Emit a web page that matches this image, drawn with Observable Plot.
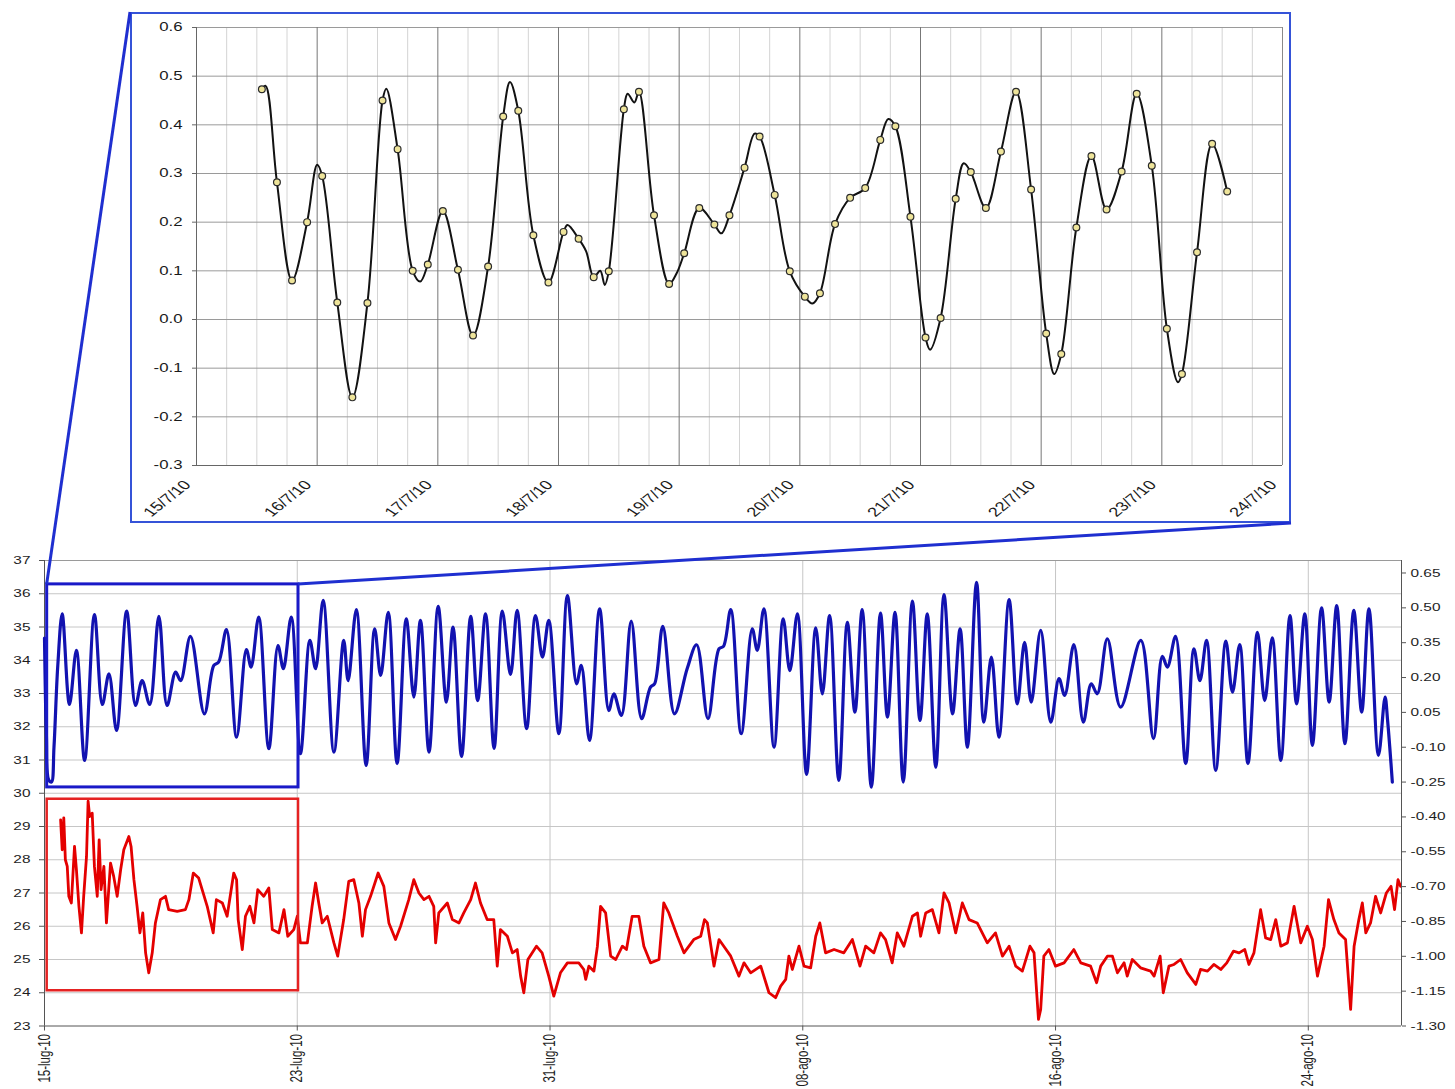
<!DOCTYPE html>
<html><head><meta charset="utf-8">
<script src="https://cdn.jsdelivr.net/npm/d3@7"></script>
<script src="https://cdn.jsdelivr.net/npm/@observablehq/plot@0.6"></script>
<style>
html,body{margin:0;padding:0;background:#fff;}
body{width:1455px;height:1089px;position:relative;overflow:hidden;font-family:"Liberation Sans",Arial,sans-serif;}
#inset{position:absolute;left:130px;top:12px;width:1157px;height:507px;border:2px solid #3553d8;background:#fff;}
.layer{position:absolute;left:0;top:540px;}
#conn{position:absolute;left:0;top:0;pointer-events:none;}
</style></head><body>
<div id="inset"></div>
<div id="mainA" class="layer"></div>
<div id="mainB" class="layer"></div>
<svg id="conn" width="1455" height="1089"></svg>
<script>
// ---------- Inset (zoom of 15/7/10 – 24/7/10), sea level (m) ----------
const insetXTicks = [0,1,2,3,4,5,6,7,8,9];
const insetXLabels = ["15/7/10","16/7/10","17/7/10","18/7/10","19/7/10","20/7/10","21/7/10","22/7/10","23/7/10","24/7/10"];
const insetYTicks = [-0.3,-0.2,-0.1,0,0.1,0.2,0.3,0.4,0.5,0.6];
// hours since 15/7/10 00:00 of the marked (3-hourly) samples
const insetDotHours = [13,16,19,22,25,28,31,34,37,40,43,46,49,52,55,58,61,64,67,70,73,76,79,82,85,88,91,94,97,100,103,106,109,112,115,118,121,124,127,130,133,136,139,142,145,148,151,154,157,160,163,166,169,172,175,178,181,184,187,190,193,196,199,202,205];
const insetDotLevel = [0.473,0.282,0.080,0.200,0.295,0.035,-0.160,0.034,
 0.450,0.350,0.100,0.113,0.223,0.102,-0.033,0.109,
 0.417,0.429,0.173,0.076,0.180,0.166,0.087,0.099,
 0.432,0.468,0.214,0.073,0.136,0.229,0.195,0.214,
 0.312,0.376,0.256,0.099,0.047,0.054,0.196,0.250,
 0.270,0.369,0.397,0.211,-0.037,0.003,0.248,0.303,
 0.229,0.345,0.468,0.267,-0.029,-0.071,0.189,0.336,
 0.226,0.304,0.464,0.316,-0.019,-0.112,0.138,0.361,
 0.263];
// extra points of the continuous curve (peaks / troughs between marks)
const insetCurveHours = [13.75,24,37.75,44.5,62.35,73.8,77.5,80.3,81.2,85.75,87.1,95.5,104.4,111,122.5,137.6,145.9,152.6,170.6,195.2];
const insetCurveLevel = [0.48,0.318,0.474,0.078,0.488,0.194,0.14,0.10,0.071,0.464,0.446,0.095,0.177,0.382,0.033,0.412,-0.062,0.321,-0.112,-0.129];

// ---------- Main chart (days since 15-lug-10) ----------
const mainXTicks = [0,8,16,24,32,40];
const mainXLabels = ["15-lug-10","23-lug-10","31-lug-10","08-ago-10","16-ago-10","24-ago-10"];
const mainXEnd = 42.95;
const leftTicks = [23,24,25,26,27,28,29,30,31,32,33,34,35,36,37];
const rightTicks = [0.65,0.5,0.35,0.2,0.05,-0.1,-0.25,-0.4,-0.55,-0.7,-0.85,-1,-1.15,-1.3];
const rightTop = 0.7038;

// sea level (right axis): [day, m]
const seaLevel = [[0.00,0.37],[0.06,-0.05],[0.13,-0.24],[0.22,-0.25],[0.30,-0.10],[0.42,0.25],[0.56,0.474],[0.79,0.084],[1.01,0.317],[1.27,-0.157],[1.58,0.471],[1.83,0.084],[2.04,0.216],[2.28,-0.028],[2.60,0.486],[2.88,0.080],[3.09,0.187],[3.33,0.084],[3.62,0.463],[3.88,0.080],[4.15,0.223],[4.31,0.187],[4.62,0.377],[5.06,0.044],[5.36,0.252],[5.51,0.266],[5.76,0.406],[6.08,-0.057],[6.39,0.320],[6.54,0.245],[6.78,0.460],[7.10,-0.106],[7.39,0.338],[7.56,0.238],[7.81,0.460],[8.10,-0.128],[8.40,0.360],[8.58,0.238],[8.82,0.532],[9.16,-0.121],[9.47,0.360],[9.61,0.187],[9.87,0.492],[10.18,-0.178],[10.45,0.410],[10.64,0.209],[10.88,0.481],[11.16,-0.171],[11.45,0.453],[11.69,0.116],[11.90,0.446],[12.17,-0.121],[12.46,0.506],[12.72,0.094],[12.93,0.417],[13.20,-0.140],[13.49,0.463],[13.71,0.101],[13.96,0.474],[14.23,-0.105],[14.49,0.486],[14.75,0.213],[14.96,0.489],[15.26,-0.020],[15.54,0.467],[15.76,0.288],[15.96,0.446],[16.28,-0.042],[16.55,0.553],[16.84,0.173],[16.99,0.252],[17.25,-0.071],[17.57,0.496],[17.86,0.058],[18.02,0.130],[18.26,0.037],[18.57,0.443],[18.90,0.023],[19.18,0.159],[19.31,0.173],[19.57,0.420],[19.94,0.044],[20.34,0.238],[20.64,0.341],[21.00,0.023],[21.35,0.324],[21.49,0.334],[21.72,0.492],[22.05,-0.042],[22.40,0.410],[22.56,0.317],[22.77,0.496],[23.09,-0.100],[23.38,0.453],[23.59,0.230],[23.83,0.474],[24.12,-0.217],[24.41,0.414],[24.62,0.130],[24.85,0.467],[25.14,-0.243],[25.41,0.438],[25.65,0.051],[25.88,0.492],[26.17,-0.272],[26.46,0.477],[26.68,0.030],[26.92,0.481],[27.18,-0.250],[27.47,0.529],[27.71,0.015],[27.94,0.474],[28.21,-0.186],[28.47,0.557],[28.74,0.044],[28.98,0.410],[29.21,-0.100],[29.50,0.610],[29.73,0.008],[29.97,0.288],[30.21,-0.057],[30.53,0.535],[30.79,0.087],[31.02,0.352],[31.23,0.094],[31.53,0.403],[31.85,0.008],[32.11,0.195],[32.29,0.123],[32.58,0.342],[32.88,0.008],[33.13,0.173],[33.32,0.130],[33.64,0.367],[34.06,0.073],[34.70,0.360],[35.10,-0.063],[35.38,0.291],[35.54,0.245],[35.80,0.377],[36.12,-0.171],[36.38,0.324],[36.57,0.187],[36.78,0.360],[37.07,-0.200],[37.39,0.357],[37.60,0.137],[37.83,0.342],[38.09,-0.171],[38.39,0.395],[38.62,0.101],[38.86,0.371],[39.13,-0.157],[39.42,0.467],[39.63,0.087],[39.89,0.474],[40.13,-0.092],[40.42,0.500],[40.66,0.094],[40.90,0.510],[41.16,-0.085],[41.44,0.489],[41.69,0.051],[41.92,0.496],[42.22,-0.135],[42.43,0.116],[42.51,0.015],[42.66,-0.250]];

// water temperature (left axis): [day, °C]
const temperature = [[0.51,29.2],[0.56,28.3],[0.61,29.26],[0.66,28.0],[0.72,27.8],[0.77,26.9],[0.85,26.7],[0.95,28.4],[1.01,27.7],[1.09,26.6],[1.17,25.8],[1.24,26.9],[1.33,28.1],[1.38,29.76],[1.43,29.3],[1.51,29.4],[1.58,27.8],[1.67,26.9],[1.73,28.6],[1.79,27.1],[1.88,27.8],[1.96,26.1],[2.09,27.9],[2.19,27.5],[2.30,26.9],[2.41,27.7],[2.51,28.3],[2.67,28.7],[2.74,28.4],[2.83,27.4],[2.93,26.6],[3.02,25.8],[3.11,26.4],[3.20,25.2],[3.30,24.6],[3.41,25.2],[3.51,26.1],[3.67,26.8],[3.83,26.9],[3.93,26.5],[4.20,26.45],[4.46,26.5],[4.57,26.8],[4.71,27.6],[4.88,27.45],[4.99,27.1],[5.15,26.6],[5.34,25.8],[5.44,26.8],[5.63,26.7],[5.78,26.3],[5.99,27.6],[6.08,27.4],[6.13,26.2],[6.26,25.3],[6.36,26.3],[6.50,26.6],[6.63,26.1],[6.75,27.1],[6.94,26.9],[7.10,27.15],[7.21,25.9],[7.42,25.8],[7.58,26.5],[7.70,25.7],[7.89,25.9],[8.00,26.3],[8.10,25.5],[8.32,25.5],[8.47,26.6],[8.58,27.3],[8.68,26.7],[8.79,26.1],[8.95,26.3],[9.16,25.5],[9.28,25.1],[9.47,26.2],[9.63,27.35],[9.79,27.4],[9.95,26.7],[10.06,25.7],[10.16,26.5],[10.32,26.9],[10.56,27.6],[10.74,27.2],[10.90,26.1],[11.11,25.6],[11.27,26.0],[11.53,26.8],[11.69,27.4],[11.85,27.0],[12.01,26.8],[12.17,26.9],[12.32,26.6],[12.38,25.5],[12.48,26.4],[12.75,26.7],[12.91,26.2],[13.12,26.1],[13.27,26.4],[13.49,26.8],[13.64,27.3],[13.80,26.7],[14.01,26.2],[14.22,26.2],[14.33,24.8],[14.43,25.9],[14.65,25.7],[14.81,25.2],[14.96,25.3],[15.07,24.5],[15.17,24.0],[15.30,25.0],[15.57,25.4],[15.75,25.2],[15.96,24.5],[16.12,23.9],[16.33,24.6],[16.55,24.9],[16.91,24.9],[17.07,24.7],[17.13,24.4],[17.23,24.8],[17.39,24.65],[17.50,25.4],[17.60,26.6],[17.76,26.4],[17.92,25.1],[18.08,25.0],[18.29,25.4],[18.42,25.3],[18.60,26.3],[18.81,26.3],[18.97,25.4],[19.18,24.9],[19.45,25.0],[19.60,26.7],[19.76,26.4],[20.03,25.7],[20.24,25.2],[20.55,25.6],[20.77,25.7],[20.89,26.2],[20.98,26.1],[21.19,24.8],[21.35,25.6],[21.50,25.4],[21.72,25.1],[21.98,24.5],[22.14,24.9],[22.35,24.6],[22.67,24.8],[22.93,24.0],[23.14,23.85],[23.30,24.2],[23.46,24.4],[23.56,25.1],[23.67,24.7],[23.88,25.4],[24.04,24.8],[24.25,24.75],[24.41,25.7],[24.54,26.1],[24.72,25.2],[24.99,25.3],[25.30,25.2],[25.57,25.6],[25.81,24.8],[25.99,25.4],[26.25,25.2],[26.46,25.8],[26.62,25.6],[26.83,24.9],[26.99,25.8],[27.20,25.4],[27.47,26.3],[27.63,26.4],[27.73,25.7],[27.89,26.4],[28.10,26.5],[28.31,25.8],[28.47,27.0],[28.63,26.7],[28.84,25.8],[29.05,26.7],[29.26,26.2],[29.52,26.1],[29.84,25.5],[30.10,25.8],[30.32,25.1],[30.53,25.4],[30.74,24.8],[30.95,24.65],[31.19,25.4],[31.32,25.2],[31.46,23.2],[31.53,23.5],[31.63,25.1],[31.79,25.3],[32.00,24.8],[32.27,24.9],[32.58,25.3],[32.80,24.9],[33.11,24.8],[33.30,24.3],[33.43,24.8],[33.64,25.1],[33.80,25.1],[33.96,24.6],[34.17,24.9],[34.27,24.5],[34.43,25.0],[34.69,24.75],[35.01,24.65],[35.12,24.5],[35.31,25.1],[35.41,24.0],[35.59,24.8],[35.75,24.85],[35.96,25.0],[36.17,24.6],[36.44,24.25],[36.59,24.7],[36.81,24.65],[37.01,24.85],[37.23,24.7],[37.42,24.9],[37.63,25.25],[37.81,25.2],[37.99,25.3],[38.12,24.85],[38.28,25.2],[38.49,26.5],[38.65,25.65],[38.81,25.6],[38.97,26.2],[39.13,25.4],[39.34,25.5],[39.55,26.6],[39.76,25.5],[39.97,26.0],[40.13,25.6],[40.29,24.5],[40.50,25.4],[40.64,26.8],[40.81,26.2],[40.97,25.8],[41.18,25.6],[41.34,23.5],[41.45,25.4],[41.60,26.2],[41.71,26.7],[41.82,25.8],[41.97,26.1],[42.13,26.9],[42.29,26.4],[42.47,27.0],[42.62,27.2],[42.73,26.5],[42.84,27.4],[42.92,27.2]];

// highlight boxes (first 8 days)
const blueBox = [{x1:0.085, x2:8.04, y1:-0.273, y2:0.601}];
const redBox  = [{x1:0.085, x2:8.04, y1:24.06, y2:29.82}];

// ---------- helpers ----------
const FONT = "'Liberation Sans', Arial, Helvetica, sans-serif";
const S = 1.4; // horizontal glyph stretch seen in the picture
const fmt1 = d => (d < -1e-9 ? "-" : "") + Math.abs(d).toFixed(1);
const fmt2 = d => (d < -1e-9 ? "-" : "") + Math.abs(d).toFixed(2);
function stretchText(svg) {
  svg.querySelectorAll("text").forEach(t => {
    const list = t.transform.baseVal;
    const c = list.numberOfItems ? list.consolidate().matrix : svg.createSVGMatrix();
    const xr = t.getAttribute("x"), yr = t.getAttribute("y");
    const xa = xr && !/em/.test(xr) ? (parseFloat(xr) || 0) : 0;
    const ya = yr && !/em/.test(yr) ? (parseFloat(yr) || 0) : 0;
    const px = c.a * xa + c.c * ya + c.e;
    const a = S * c.a, b = c.b, cc = S * c.c, d = c.d, e = S * (c.e - px) + px, f = c.f;
    t.setAttribute("transform", `matrix(${a},${b},${cc},${d},${e},${f})`);
  });
}

// ---------- inset plot ----------
const insetDots = insetDotHours.map((h, i) => ({t: h / 24, v: insetDotLevel[i]}));
const insetCurve = insetDots.concat(insetCurveHours.map((h, i) => ({t: h / 24, v: insetCurveLevel[i]})))
  .sort((a, b) => a.t - b.t);
const minorGrid = d3.range(0, 9.001, 0.25).filter(d => Math.abs(d - Math.round(d)) > 1e-9);
const majorGrid = [1,2,3,4,5,6,7,8];

const inset = Plot.plot({
  width: 1157, height: 507,
  marginLeft: 64, marginRight: 7, marginTop: 13, marginBottom: 56,
  style: {fontFamily: FONT, fontSize: "12px", color: "#1a1a1a", background: "white", overflow: "visible"},
  x: {domain: [0, 9], axis: null},
  y: {domain: [-0.3, 0.6], axis: null},
  marks: [
    Plot.gridX(minorGrid, {stroke: "#d4d4d4", strokeOpacity: 1}),
    Plot.gridY(insetYTicks.slice(1), {stroke: "#9a9a9a", strokeOpacity: 1}),
    Plot.gridX(majorGrid, {stroke: "#777", strokeOpacity: 1}),
    Plot.ruleX([9], {stroke: "#8a8a8a"}),
    Plot.ruleX([0], {stroke: "#666"}),
    Plot.ruleY([-0.3], {stroke: "#666"}),
    Plot.axisY(insetYTicks, {label: null, tickSize: 4, tickPadding: 10, tickFormat: fmt1, stroke: "#666", fontSize: 12}),
    Plot.axisX(insetXTicks, {label: null, tickSize: 0, tickPadding: 17, dx: -9, tickRotate: -48, tickFormat: d => insetXLabels[d], fontSize: 13}),
    Plot.line(insetCurve, {x: "t", y: "v", curve: "catmull-rom", stroke: "#121212", strokeWidth: 2, strokeLinejoin: "round"}),
    Plot.dot(insetDots, {x: "t", y: "v", r: 3.4, fill: "#eee49a", stroke: "#2b2b2b", strokeWidth: 1.2})
  ]
});
stretchText(inset);
document.getElementById("inset").appendChild(inset);

// ---------- main chart: left axis (temperature) ----------
const W = 1455, H = 549;
const M = {marginLeft: 44, marginRight: 54, marginTop: 20, marginBottom: 63.5};
const mainA = Plot.plot({
  width: W, height: H, ...M,
  style: {fontFamily: FONT, fontSize: "11px", color: "#1e1e1e", background: "white", overflow: "visible"},
  x: {domain: [0, mainXEnd], axis: null},
  y: {domain: [23, 37], axis: null},
  marks: [
    Plot.gridY(leftTicks.filter(d => d > 23 && d < 37), {stroke: "#c6c6c6", strokeOpacity: 1}),
    Plot.gridX(mainXTicks.slice(1), {stroke: "#c6c6c6", strokeOpacity: 1}),
    Plot.ruleY([37], {stroke: "#9a9a9a"}),
    Plot.axisY(leftTicks, {label: null, tickSize: 5, tickPadding: 9, stroke: "#555", fontSize: 11}),
    Plot.axisX(mainXTicks, {label: null, tickSize: 5, tickPadding: 3, tickRotate: -90, stroke: "#555", fontSize: 11.5,
      tickFormat: d => mainXLabels[mainXTicks.indexOf(d)]}),
    Plot.ruleX([0], {stroke: "#555"}),
    Plot.ruleY([23], {stroke: "#555"}),
    Plot.line(temperature, {x: d => d[0], y: d => d[1], stroke: "#e40000", strokeWidth: 2.8, strokeLinejoin: "round"}),
    Plot.rect(redBox, {x1: "x1", x2: "x2", y1: "y1", y2: "y2", fill: "none", stroke: "#e52222", strokeWidth: 2.5})
  ]
});
stretchText(mainA);
document.getElementById("mainA").appendChild(mainA);

// ---------- main chart: right axis (sea level) ----------
const mainB = Plot.plot({
  width: W, height: H, ...M,
  style: {fontFamily: FONT, fontSize: "11px", color: "#1e1e1e", background: "transparent", overflow: "visible"},
  x: {domain: [0, mainXEnd], axis: null},
  y: {domain: [-1.30, rightTop], axis: null},
  marks: [
    Plot.ruleX([mainXEnd], {stroke: "#555"}),
    Plot.axisY(rightTicks, {label: null, anchor: "right", tickSize: 4, tickPadding: 5, tickFormat: fmt2, stroke: "#555", fontSize: 11}),
    Plot.line(seaLevel, {x: d => d[0], y: d => d[1], curve: "catmull-rom", stroke: "#1212b0", strokeWidth: 3.2, strokeLinejoin: "round"}),
    Plot.rect(blueBox, {x1: "x1", x2: "x2", y1: "y1", y2: "y2", fill: "none", stroke: "#1a1ac8", strokeWidth: 3})
  ]
});
stretchText(mainB);
document.getElementById("mainB").appendChild(mainB);

// ---------- connector lines from the inset to the blue box ----------
const xs = mainB.scale("x"), ys = mainB.scale("y");
const layerTop = document.getElementById("mainB").getBoundingClientRect().top;
const bx1 = xs.apply(blueBox[0].x1), bx2 = xs.apply(blueBox[0].x2);
const byTop = ys.apply(blueBox[0].y2) + layerTop;
const ib = document.getElementById("inset").getBoundingClientRect();
const conn = d3.select("#conn");
conn.append("line").attr("x1", ib.left).attr("y1", ib.top).attr("x2", bx1).attr("y2", byTop)
  .attr("stroke", "#1f2fd0").attr("stroke-width", 3);
conn.append("line").attr("x1", ib.right).attr("y1", ib.bottom).attr("x2", bx2).attr("y2", byTop)
  .attr("stroke", "#1f2fd0").attr("stroke-width", 3);
</script></body></html>
